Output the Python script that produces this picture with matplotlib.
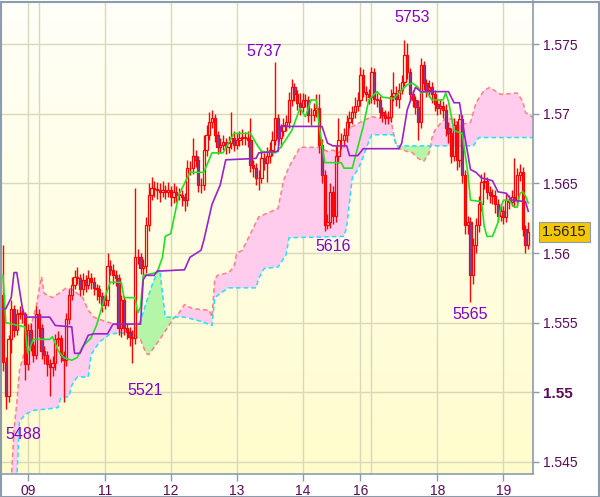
import numpy as np
import matplotlib
matplotlib.use("Agg")
import matplotlib.pyplot as plt
from matplotlib.patches import Rectangle

plt.rcParams['font.family'] = ['Liberation Sans', 'DejaVu Sans']

# ---------------- data (hourly bars) ----------------
first_open = 1.5570
close = [
    1.5522, 1.5497, 1.5538, 1.5560, 1.5545, 1.5556, 1.5557, 1.5556, 1.5520, 1.5545,
    1.5534, 1.5527, 1.5556, 1.5546, 1.5530, 1.5527, 1.5520, 1.5518, 1.5521, 1.5538,
    1.5539, 1.5527, 1.5523, 1.5553, 1.5570, 1.5577, 1.5583, 1.5582, 1.5574, 1.5581,
    1.5577, 1.5582, 1.5579, 1.5575, 1.5574, 1.5569, 1.5563, 1.5566, 1.5591, 1.5588,
    1.5584, 1.5582, 1.5546, 1.5566, 1.5546, 1.5543, 1.5540, 1.5539, 1.5597, 1.5597,
    1.5589, 1.5591, 1.5620, 1.5642, 1.5647, 1.5646, 1.5645, 1.5644, 1.5645, 1.5644,
    1.5645, 1.5640, 1.5644, 1.5642, 1.5642, 1.5640, 1.5638, 1.5661, 1.5661, 1.5670,
    1.5667, 1.5649, 1.5649, 1.5674, 1.5685, 1.5694, 1.5697, 1.5685, 1.5676, 1.5678,
    1.5680, 1.5676, 1.5679, 1.5683, 1.5678, 1.5681, 1.5683, 1.5683, 1.5683, 1.5681,
    1.5663, 1.5661, 1.5654, 1.5654, 1.5668, 1.5665, 1.5670, 1.5674, 1.5681, 1.5697,
    1.5683, 1.5688, 1.5692, 1.5694, 1.5710, 1.5719, 1.5714, 1.5708, 1.5705, 1.5710,
    1.5710, 1.5699, 1.5699, 1.5703, 1.5704, 1.5678, 1.5656, 1.5620, 1.5622, 1.5644,
    1.5627, 1.5670, 1.5681, 1.5681, 1.5685, 1.5694, 1.5697, 1.5701, 1.5706, 1.5710,
    1.5728, 1.5716, 1.5714, 1.5712, 1.5730, 1.5711, 1.5710, 1.5701, 1.5699, 1.5697,
    1.5698, 1.5713, 1.5715, 1.5711, 1.5717, 1.5723, 1.5742, 1.5730, 1.5714, 1.5710,
    1.5705, 1.5694, 1.5735, 1.5722, 1.5717, 1.5719, 1.5714, 1.5707, 1.5704, 1.5706,
    1.5703, 1.5690, 1.5686, 1.5670, 1.5692, 1.5667, 1.5696, 1.5656, 1.5620, 1.5622,
    1.5584, 1.5606, 1.5620, 1.5635, 1.5651, 1.5652, 1.5644, 1.5642, 1.5641, 1.5635,
    1.5627, 1.5630, 1.5626, 1.5638, 1.5637, 1.5640, 1.5638, 1.5656, 1.5658, 1.5617,
    1.5606, 1.5615]
high = [
    1.5606, 1.5525, 1.5541, 1.5566, 1.5563, 1.5560, 1.5562, 1.5560, 1.5558, 1.5549,
    1.5550, 1.5537, 1.5562, 1.5560, 1.5549, 1.5533, 1.5530, 1.5524, 1.5526, 1.5542,
    1.5544, 1.5541, 1.5530, 1.5557, 1.5574, 1.5583, 1.5588, 1.5590, 1.5585, 1.5586,
    1.5584, 1.5588, 1.5586, 1.5583, 1.5578, 1.5577, 1.5572, 1.5570, 1.5600, 1.5595,
    1.5592, 1.5588, 1.5585, 1.5570, 1.5569, 1.5550, 1.5547, 1.5545, 1.5647, 1.5603,
    1.5600, 1.5596, 1.5626, 1.5650, 1.5655, 1.5652, 1.5651, 1.5650, 1.5652, 1.5649,
    1.5651, 1.5648, 1.5650, 1.5648, 1.5647, 1.5645, 1.5643, 1.5667, 1.5666, 1.5683,
    1.5674, 1.5670, 1.5654, 1.5685, 1.5692, 1.5701, 1.5703, 1.5700, 1.5688, 1.5683,
    1.5685, 1.5683, 1.5684, 1.5701, 1.5688, 1.5686, 1.5688, 1.5689, 1.5687, 1.5688,
    1.5697, 1.5667, 1.5665, 1.5660, 1.5674, 1.5672, 1.5676, 1.5680, 1.5688, 1.5737,
    1.5700, 1.5693, 1.5697, 1.5699, 1.5716, 1.5725, 1.5722, 1.5717, 1.5715, 1.5715,
    1.5714, 1.5713, 1.5704, 1.5708, 1.5714, 1.5714, 1.5682, 1.5660, 1.5628, 1.5650,
    1.5648, 1.5677, 1.5697, 1.5686, 1.5690, 1.5699, 1.5702, 1.5706, 1.5712, 1.5716,
    1.5734, 1.5732, 1.5720, 1.5718, 1.5734, 1.5733, 1.5715, 1.5713, 1.5705, 1.5703,
    1.5702, 1.5718, 1.5730, 1.5720, 1.5722, 1.5728, 1.5753, 1.5751, 1.5733, 1.5717,
    1.5713, 1.5710, 1.5740, 1.5738, 1.5725, 1.5724, 1.5723, 1.5717, 1.5711, 1.5711,
    1.5709, 1.5707, 1.5694, 1.5690, 1.5697, 1.5695, 1.5700, 1.5699, 1.5660, 1.5627,
    1.5626, 1.5611, 1.5625, 1.5641, 1.5657, 1.5658, 1.5655, 1.5648, 1.5646, 1.5645,
    1.5639, 1.5635, 1.5634, 1.5643, 1.5642, 1.5645, 1.5668, 1.5661, 1.5664, 1.5662,
    1.5620, 1.5622]
low = [
    1.5515, 1.5488, 1.5493, 1.5528, 1.5540, 1.5541, 1.5553, 1.5550, 1.5509, 1.5516,
    1.5530, 1.5522, 1.5524, 1.5540, 1.5524, 1.5520, 1.5512, 1.5497, 1.5512, 1.5516,
    1.5533, 1.5522, 1.5493, 1.5519, 1.5549, 1.5566, 1.5574, 1.5578, 1.5569, 1.5570,
    1.5572, 1.5574, 1.5574, 1.5570, 1.5566, 1.5564, 1.5558, 1.5560, 1.5562, 1.5584,
    1.5578, 1.5576, 1.5541, 1.5540, 1.5541, 1.5538, 1.5533, 1.5521, 1.5535, 1.5592,
    1.5585, 1.5584, 1.5586, 1.5616, 1.5638, 1.5640, 1.5639, 1.5637, 1.5640, 1.5639,
    1.5640, 1.5634, 1.5636, 1.5637, 1.5638, 1.5634, 1.5630, 1.5634, 1.5656, 1.5657,
    1.5662, 1.5644, 1.5643, 1.5645, 1.5670, 1.5681, 1.5690, 1.5680, 1.5671, 1.5672,
    1.5674, 1.5671, 1.5672, 1.5675, 1.5673, 1.5675, 1.5677, 1.5678, 1.5678, 1.5676,
    1.5658, 1.5655, 1.5649, 1.5645, 1.5650, 1.5660, 1.5651, 1.5665, 1.5670, 1.5678,
    1.5678, 1.5676, 1.5684, 1.5688, 1.5690, 1.5706, 1.5709, 1.5703, 1.5699, 1.5701,
    1.5705, 1.5694, 1.5692, 1.5695, 1.5698, 1.5672, 1.5650, 1.5616, 1.5617, 1.5618,
    1.5621, 1.5622, 1.5665, 1.5675, 1.5678, 1.5680, 1.5690, 1.5693, 1.5697, 1.5702,
    1.5706, 1.5712, 1.5709, 1.5707, 1.5708, 1.5707, 1.5705, 1.5697, 1.5694, 1.5693,
    1.5693, 1.5694, 1.5709, 1.5706, 1.5704, 1.5714, 1.5720, 1.5725, 1.5709, 1.5705,
    1.5700, 1.5681, 1.5690, 1.5717, 1.5712, 1.5712, 1.5708, 1.5702, 1.5699, 1.5700,
    1.5697, 1.5684, 1.5679, 1.5665, 1.5666, 1.5660, 1.5662, 1.5650, 1.5614, 1.5614,
    1.5565, 1.5578, 1.5600, 1.5615, 1.5630, 1.5646, 1.5639, 1.5636, 1.5635, 1.5629,
    1.5622, 1.5623, 1.5621, 1.5622, 1.5632, 1.5634, 1.5633, 1.5634, 1.5652, 1.5612,
    1.5600, 1.5603]

# Tenkan-sen (green) vertices: bar index, price
tenkan_idx = [0, 1, 8, 9, 11, 17, 18, 20, 22, 25, 27, 29, 32, 34, 37, 39, 43, 44, 48, 49,
              50, 51, 56, 58, 59, 61, 63, 64, 67, 68, 73, 76, 80, 82, 84, 90, 92, 94, 99, 101,
              105, 108, 110, 112, 114, 115, 117, 123, 124, 127, 131, 133, 136, 138, 142, 145, 147, 149, 151, 152,
              154, 156, 160, 161, 162, 164, 167, 169, 170, 174, 175, 176, 178, 180, 181, 182, 184, 186, 187, 188,
              189, 190, 191]
tenkan = [1.5584, 1.5550, 1.5547, 1.5528, 1.5538, 1.5538, 1.5540, 1.5530, 1.5525, 1.5523,
          1.5525, 1.5533, 1.5539, 1.5548, 1.5568, 1.5579, 1.5579, 1.5568, 1.5568, 1.5557,
          1.5561, 1.5584, 1.5586, 1.5597, 1.5612, 1.5614, 1.5633, 1.5642, 1.5654, 1.5658,
          1.5658, 1.5672, 1.5672, 1.5679, 1.5686, 1.5686, 1.5679, 1.5673, 1.5672, 1.5676,
          1.5688, 1.5704, 1.5698, 1.5710, 1.5710, 1.5691, 1.5665, 1.5665, 1.5661, 1.5661,
          1.5691, 1.5710, 1.5716, 1.5712, 1.5711, 1.5717, 1.5721, 1.5722, 1.5719, 1.5715,
          1.5716, 1.5710, 1.5710, 1.5715, 1.5709, 1.5688, 1.5686, 1.5658, 1.5638, 1.5637,
          1.5619, 1.5612, 1.5612, 1.5622, 1.5633, 1.5638, 1.5638, 1.5633, 1.5633, 1.5643,
          1.5644, 1.5641, 1.5636]

# Kijun-sen (purple) vertices
kijun_idx = [0, 1, 3, 4, 5, 7, 8, 17, 19, 25, 26, 28, 31, 33, 38, 40, 50, 51, 52, 55,
             56, 66, 68, 72, 73, 76, 79, 81, 92, 93, 100, 101, 116, 118, 120, 125, 126, 129, 131, 144,
             145, 147, 149, 150, 152, 162, 164, 166, 168, 170, 172, 174, 178, 180, 183, 185, 190, 191]
kijun = [1.5560, 1.5560, 1.5568, 1.5586, 1.5586, 1.5561, 1.5554, 1.5554, 1.5548, 1.5547,
         1.5528, 1.5528, 1.5541, 1.5542, 1.5542, 1.5549, 1.5549, 1.5581, 1.5584, 1.5584,
         1.5587, 1.5588, 1.5597, 1.5602, 1.5609, 1.5635, 1.5649, 1.5667, 1.5668, 1.5672,
         1.5673, 1.5691, 1.5691, 1.5679, 1.5677, 1.5677, 1.5670, 1.5670, 1.5675, 1.5675,
         1.5679, 1.5703, 1.5714, 1.5719, 1.5716, 1.5716, 1.5708, 1.5708, 1.5683, 1.5660,
         1.5658, 1.5654, 1.5652, 1.5644, 1.5643, 1.5638, 1.5637, 1.5630]

# Senkou span A (salmon dashed) vertices
span_a_idx = [3, 4, 5, 6, 8, 10, 12, 14, 15, 18, 21, 23, 25, 29, 31, 33, 37, 44, 47, 50,
              52, 53, 57, 60, 62, 64, 66, 69, 75, 76, 77, 78, 82, 84, 85, 87, 93, 100, 102, 104,
              108, 115, 118, 120, 122, 124, 126, 129, 132, 134, 137, 139, 141, 142, 143, 144, 147, 149, 151, 153,
              155, 156, 157, 159, 161, 164, 166, 170, 172, 175, 177, 181, 187, 189, 190, 193]
span_a = [1.5437, 1.5473, 1.5492, 1.5516, 1.5530, 1.5547, 1.5561, 1.5583, 1.5571, 1.5568,
          1.5572, 1.5575, 1.5574, 1.5568, 1.5559, 1.5554, 1.5551, 1.5547, 1.5542, 1.5538,
          1.5528, 1.5527, 1.5538, 1.5547, 1.5553, 1.5557, 1.5563, 1.5560, 1.5559, 1.5554,
          1.5581, 1.5584, 1.5586, 1.5590, 1.5600, 1.5602, 1.5626, 1.5632, 1.5652, 1.5662,
          1.5676, 1.5676, 1.5673, 1.5674, 1.5672, 1.5676, 1.5690, 1.5693, 1.5696, 1.5698,
          1.5697, 1.5701, 1.5697, 1.5686, 1.5678, 1.5675, 1.5673, 1.5672, 1.5668, 1.5666,
          1.5672, 1.5683, 1.5688, 1.5693, 1.5697, 1.5696, 1.5692, 1.5694, 1.5708, 1.5717,
          1.5719, 1.5714, 1.5715, 1.5709, 1.5701, 1.5697]

# Senkou span B (cyan dashed) vertices
span_b_idx = [5, 6, 8, 11, 16, 20, 21, 24, 25, 27, 31, 32, 34, 35, 39, 47, 50, 52, 54, 56,
              57, 59, 66, 72, 76, 77, 79, 82, 92, 93, 95, 100, 103, 104, 124, 125, 127, 129, 131, 132,
              134, 142, 143, 171, 173, 193]
span_b = [1.5437, 1.5479, 1.5484, 1.5487, 1.5488, 1.5489, 1.5496, 1.5497, 1.5505, 1.5511,
          1.5511, 1.5527, 1.5533, 1.5536, 1.5542, 1.5543, 1.5551, 1.5564, 1.5576, 1.5586,
          1.5588, 1.5554, 1.5554, 1.5551, 1.5548, 1.5568, 1.5571, 1.5575, 1.5575, 1.5582,
          1.5589, 1.5590, 1.5599, 1.5611, 1.5612, 1.5619, 1.5654, 1.5660, 1.5669, 1.5675,
          1.5685, 1.5685, 1.5677, 1.5677, 1.5683, 1.5683]

day_tick_idx = [9, 37, 61, 85, 109, 130, 158, 182]
day_labels = ["09", "11", "12", "13", "14", "16", "18", "19"]
extra_vgrid_idx = [13, 134]
y_ticks = [1.545, 1.55, 1.555, 1.56, 1.565, 1.57, 1.575]
y_labels = ["1.545", "1.55", "1.555", "1.56", "1.565", "1.57", "1.575"]
last_price = 1.5615
extreme_labels = ["5737", "5753", "5616", "5565", "5521", "5488"]
extreme_pos = [(0.494, 0.894), (0.772, 0.966), (0.624, 0.482),
               (0.881, 0.338), (0.2705, 0.1755), (0.0413, 0.0825)]

# ---------------- figure ----------------
W, H = 600, 497
fig = plt.figure(figsize=(W / 100, H / 100), dpi=100)
fig.patch.set_facecolor('white')
ax = fig.add_axes([1 / W, (H - 474) / H, 532.3 / W, 473 / H])

XMIN, XMAX = -0.73, 192.84
YMIN, YMAX = 1.54413, 1.57811

# background gradient
grad = np.linspace(0, 1, 256).reshape(-1, 1)
top = np.array([1.0, 1.0, 0.975])
bot = np.array([1.0, 0.99, 0.80])
img = top[None, None, :] * (1 - grad[:, :, None]) + bot[None, None, :] * grad[:, :, None]
ax.imshow(img, extent=[0, 1, 0, 1], transform=ax.transAxes, aspect='auto', zorder=0)

gridc = '#d9d8b8'
for yv in y_ticks:
    ax.axhline(yv, color=gridc, lw=1.0, zorder=0.5)
for xv in day_tick_idx + extra_vgrid_idx:
    ax.axvline(xv, color=gridc, lw=1.0, zorder=0.5)

# cloud
g = np.linspace(3, 193, 1901)
a = np.interp(g, span_a_idx, span_a)
b = np.interp(g, span_b_idx, span_b)
ax.fill_between(g, a, b, where=a >= b, interpolate=True, color='#ffccee', lw=0, zorder=1)
ax.fill_between(g, a, b, where=a < b, interpolate=True, color='#b4f5a8', lw=0, zorder=1)
ax.plot(span_a_idx, span_a, color='#ff8080', lw=1.1, ls=(0, (3, 2)), zorder=1.5)
ax.plot(span_b_idx, span_b, color='#22e0ff', lw=1.1, ls=(0, (3, 2)), zorder=1.5)

# candles
n = len(close)
idx = np.arange(n)
c = np.array(close)
o = np.concatenate([[first_open], c[:-1]])
h = np.array(high)
l = np.array(low)
body_top = np.maximum(o, c)
body_bot = np.minimum(o, c)
ax.vlines(idx, body_top, h, color='#ff0000', lw=1.0, zorder=3)
ax.vlines(idx, l, body_bot, color='#ff0000', lw=1.0, zorder=3)
bear = c < o
heights = np.maximum(body_top - body_bot, 0.00002)
ax.bar(idx[bear], heights[bear], bottom=body_bot[bear], width=0.85,
       facecolor='#6c48b4', edgecolor='#ff0000', linewidth=0.9, zorder=3)
ax.bar(idx[~bear], heights[~bear], bottom=body_bot[~bear], width=0.85,
       facecolor='none', edgecolor='#ff0000', linewidth=0.9, zorder=3)

# tenkan / kijun
ax.plot(tenkan_idx, tenkan, color='#22e022', lw=1.2, zorder=4)
ax.plot(kijun_idx, kijun, color='#9a22cc', lw=1.2, zorder=4)

# extreme labels
for txt, (xf, yf) in zip(extreme_labels, extreme_pos):
    ax.text(xf, yf, txt, transform=ax.transAxes, ha='center', va='center',
            fontsize=11.5, color='#8000cc', zorder=6)

ax.set_xlim(XMIN, XMAX)
ax.set_ylim(YMIN, YMAX)

# axes styling
frame = '#8c9cac'
for s in ['left', 'top']:
    ax.spines[s].set_visible(False)
for s in ['right', 'bottom']:
    ax.spines[s].set_color(frame)
    ax.spines[s].set_linewidth(1.2)

ax.yaxis.tick_right()
ax.set_yticks(y_ticks)
ax.set_yticklabels(y_labels)
ax.set_xticks(day_tick_idx)
ax.set_xticklabels(day_labels)
ax.tick_params(axis='y', direction='out', length=4, width=1, color=frame,
               labelcolor='#5a0a5a', labelsize=10, pad=3)
ax.tick_params(axis='x', direction='out', length=5, width=1, color=frame,
               labelcolor='#5a0a5a', labelsize=10, pad=2)
for lab in ax.get_yticklabels():
    if lab.get_text() == "1.55":
        lab.set_fontweight('bold')
        lab.set_fontsize(11)

# last price tag
ax.annotate(f"{last_price:.4f}", xy=(1, last_price), xycoords=('axes fraction', 'data'),
            xytext=(6.5, 0), textcoords='offset points', ha='left', va='center',
            fontsize=10.5, color='#222222', annotation_clip=False, zorder=10,
            bbox=dict(boxstyle='square,pad=0.22', fc='#f6c700', ec='#8c9cac', lw=0.8))

# outer frame
fig.patches.append(Rectangle((0.5 / W, 0.5 / H), (W - 2) / W, (H - 2) / H,
                             transform=fig.transFigure, fill=False,
                             edgecolor=frame, lw=1.5))

fig.savefig('out.png', dpi=100)
